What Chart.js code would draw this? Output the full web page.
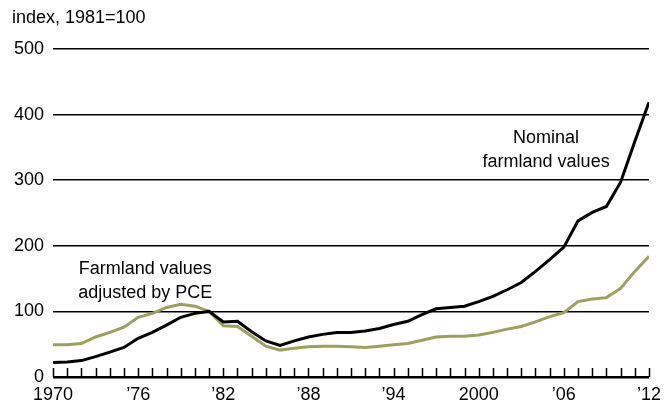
<!DOCTYPE html>
<html lang="en">
<head>
<script src="https://cdn.jsdelivr.net/npm/chart.js"></script>
<style>
  html, body { margin: 0; padding: 0; background: #fff; }
  #wrap { width: 668px; height: 404px; }
</style>
</head>
<body>
<div id="wrap"><canvas id="chart" width="668" height="404"></canvas></div>
<script>
const years = [1970,1971,1972,1973,1974,1975,1976,1977,1978,1979,1980,1981,1982,1983,1984,1985,1986,1987,1988,1989,1990,1991,
  1992,1993,1994,1995,1996,1997,1998,1999,2000,2001,2002,2003,2004,2005,2006,2007,2008,2009,2010,2011,2012];
const nominal = [22,23,25,31,38,45,59,68,79,91,97,100,84,85,69,55,48,55,61,65,68,68,
  70,74,80,85,95,104,106,108,115,123,133,144,161,179,198,238,251,260,297,359,419];
const adjusted = [49,49,51,61,68,76,91,97,106,111,108,100,78,77,62,47,41,44,46,47,47,46,
  45,47,49,51,56,61,62,62,64,68,73,77,84,92,98,115,119,121,135,161,184];
const yTicks = [0,100,200,300,400,500];
const xLabelYears = [1970,1976,1982,1988,1994,2000,2006,2012];
const unitLabel = 'index, 1981=100';
const notes = [
  { lines: ['Nominal', 'farmland values'], x: 2004.75, y: 364 },
  { lines: ['Farmland values', 'adjusted by PCE'], x: 1976.5, y: 164 }
];

const FONT = '"Liberation Sans", Arial, Helvetica, sans-serif';

const extras = {
  id: 'extras',
  afterDraw(chart) {
    const { ctx, scales: { x, y } } = chart;
    ctx.save();
    // upward tick marks on the baseline
    ctx.strokeStyle = '#000';
    ctx.lineWidth = 1.5;
    const base = y.getPixelForValue(0);
    years.forEach(yr => {
      const px = Math.round(x.getPixelForValue(yr)) + 0.5;
      ctx.beginPath();
      ctx.moveTo(px, base);
      ctx.lineTo(px, base - 9);
      ctx.stroke();
    });
    // unit label
    ctx.fillStyle = '#000';
    ctx.font = '18px ' + FONT;
    ctx.textAlign = 'left';
    ctx.textBaseline = 'middle';
    ctx.fillText(unitLabel, 12, 18);
    // annotations
    ctx.textAlign = 'center';
    notes.forEach(n => {
      const cx = x.getPixelForValue(n.x);
      const cy = y.getPixelForValue(n.y);
      n.lines.forEach((t, i) => ctx.fillText(t, cx, cy + i * 23.5));
    });
    ctx.restore();
  }
};

new Chart(document.getElementById('chart'), {
  type: 'line',
  data: {
    labels: years,
    datasets: [{
      label: 'Nominal farmland values',
      data: years.map((yr, i) => ({ x: yr, y: nominal[i] })),
      borderColor: '#000',
      borderWidth: 3,
      pointRadius: 0,
      tension: 0
    }, {
      label: 'Farmland values adjusted by PCE',
      data: years.map((yr, i) => ({ x: yr, y: adjusted[i] })),
      borderColor: '#9ba15c',
      borderWidth: 3,
      pointRadius: 0,
      tension: 0
    }]
  },
  options: {
    responsive: false,
    animation: false,
    layout: { padding: { top: 49, right: 18, left: 14, bottom: 0 } },
    plugins: { legend: { display: false }, tooltip: { enabled: false } },
    scales: {
      x: {
        type: 'linear',
        min: 1970,
        max: 2012,
        afterBuildTicks(scale) { scale.ticks = xLabelYears.map(v => ({ value: v })); },
        afterFit(scale) { scale.height = 27; },
        ticks: {
          autoSkip: false,
          maxRotation: 0,
          color: '#000',
          font: { family: FONT, size: 18 },
          padding: 7,
          callback: v => (v === 1970 || v === 2000) ? String(v) : '\u2019' + String(v).slice(2)
        },
        grid: { display: false, drawTicks: false, tickLength: 0 },
        border: { display: false }
      },
      y: {
        min: 0,
        max: 500,
        afterBuildTicks(scale) { scale.ticks = yTicks.map(v => ({ value: v })); },
        afterFit(scale) { scale.width = 39; },
        ticks: {
          color: '#000',
          font: { family: FONT, size: 18 },
          padding: 9
        },
        grid: {
          color: '#000',
          lineWidth: ctx => ctx.tick && ctx.tick.value === 0 ? 2.5 : 1.5,
          drawTicks: false,
          tickLength: 0
        },
        border: { display: false }
      }
    }
  },
  plugins: [extras]
});
</script>
</body>
</html>
